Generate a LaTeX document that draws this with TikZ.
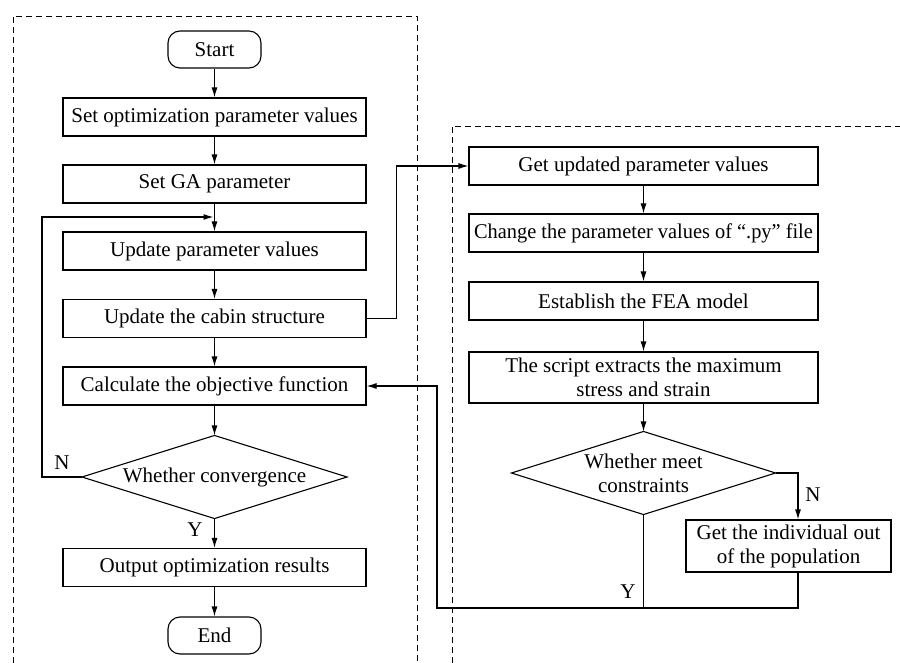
\documentclass[tikz,border=0pt]{standalone}
\usepackage{fontspec}
\setmainfont{Liberation Serif}
\usetikzlibrary{arrows.meta,calc}
\begin{document}
\begin{tikzpicture}[x=1pt,y=-1pt,
  font=\fontsize{21}{24}\selectfont,
  line width=1.1pt,
  box/.style={draw, rectangle, inner sep=0pt, minimum width=303pt, minimum height=38pt, align=center},
  rbox/.style={draw, rectangle, inner sep=0pt, minimum width=349pt, minimum height=38pt, align=center},
  term/.style={draw, rectangle, rounded corners=12pt, inner sep=0pt, minimum width=93pt, minimum height=37pt},
  dslot/.style={rectangle, inner sep=0pt, align=center},
  arr/.style={-{Latex[length=10pt,width=6pt]}},
  frame/.style={dash pattern=on 6pt off 4pt, line width=0.9pt},
  lab/.style={inner sep=0pt}
]
\useasboundingbox (0,0) rectangle (900,663);
% frames
\draw[frame] (13,663) -- (13,16) -- (417,16) -- (417,663);
\draw[frame] (452,663) -- (452,126) -- (900,126);
% left column
\node[term] (start) at (214.5,49.5) {Start};
\node[box] (s1) at (214.5,117) {Set optimization parameter values};
\node[box] (s2) at (214.5,184) {Set GA parameter};
\node[box] (s3) at (214.5,251) {Update parameter values};
\node[box] (s4) at (214.5,318.5) {Update the cabin structure};
\node[box] (s5) at (214.5,386) {Calculate the objective function};
\node[dslot, minimum width=264pt, minimum height=82pt] (d1) at (214.5,477) {Whether convergence};
\draw (d1.north) -- (d1.east) -- (d1.south) -- (d1.west) -- cycle;
\node[box] (s6) at (214.5,567.5) {Output optimization results};
\node[term] (end) at (214.5,635.5) {End};
% right column
\node[rbox] (r1) at (643.5,166) {Get updated parameter values};
\node[rbox] (r2) at (643.5,233) {\scalebox{0.97}[1]{Change the parameter values of “.py” file}};
\node[rbox] (r3) at (643.5,301) {Establish the FEA model};
\node[rbox, minimum height=51pt] (r4) at (643.5,377.5) {The script extracts the maximum\\stress and strain};
\node[dslot, minimum width=263pt, minimum height=82pt] (d2) at (643.5,473) {Whether meet\\constraints};
\draw (d2.north) -- (d2.east) -- (d2.south) -- (d2.west) -- cycle;
\node[draw, rectangle, inner sep=0pt, minimum width=205pt, minimum height=52pt, align=center] (r5) at (788.5,546) {Get the individual out\\of the population};
% coordinates
\coordinate (loopend) at (214.5,217);
\coordinate (nl) at (42,217);
\coordinate (fb) at (437,608);
% left arrows
\draw[arr] (start) -- (s1);
\draw[arr] (s1) -- (s2);
\draw[arr] (s2) -- (s3);
\draw[arr] (s3) -- (s4);
\draw[arr] (s4) -- (s5);
\draw[arr] (s5) -- (d1.north);
\draw[arr] (d1.south) -- (s6);
\draw[arr] (s6) -- (end);
\draw[arr] (d1.west) -| (nl) -- ([xshift=-1pt]loopend);
\node[lab] at (62,463) {N};
\node[lab] at (195,530) {Y};
% cross
\draw[arr] (s4.east) -- ++(30,0) |- (r1.west);
% right arrows
\draw[arr] (r1) -- (r2);
\draw[arr] (r2) -- (r3);
\draw[arr] (r3) -- (r4);
\draw[arr] (r4) -- (d2.north);
\draw[arr] (d2.east) -| ([xshift=9.5pt]r5.north);
\draw (d2.south) -- (d2.south |- fb);
\draw[arr] ([xshift=9.5pt]r5.south) |- (fb) |- (s5.east);
\node[lab] at (813,495) {N};
\node[lab] at (628,592) {Y};
\end{tikzpicture}
\end{document}
